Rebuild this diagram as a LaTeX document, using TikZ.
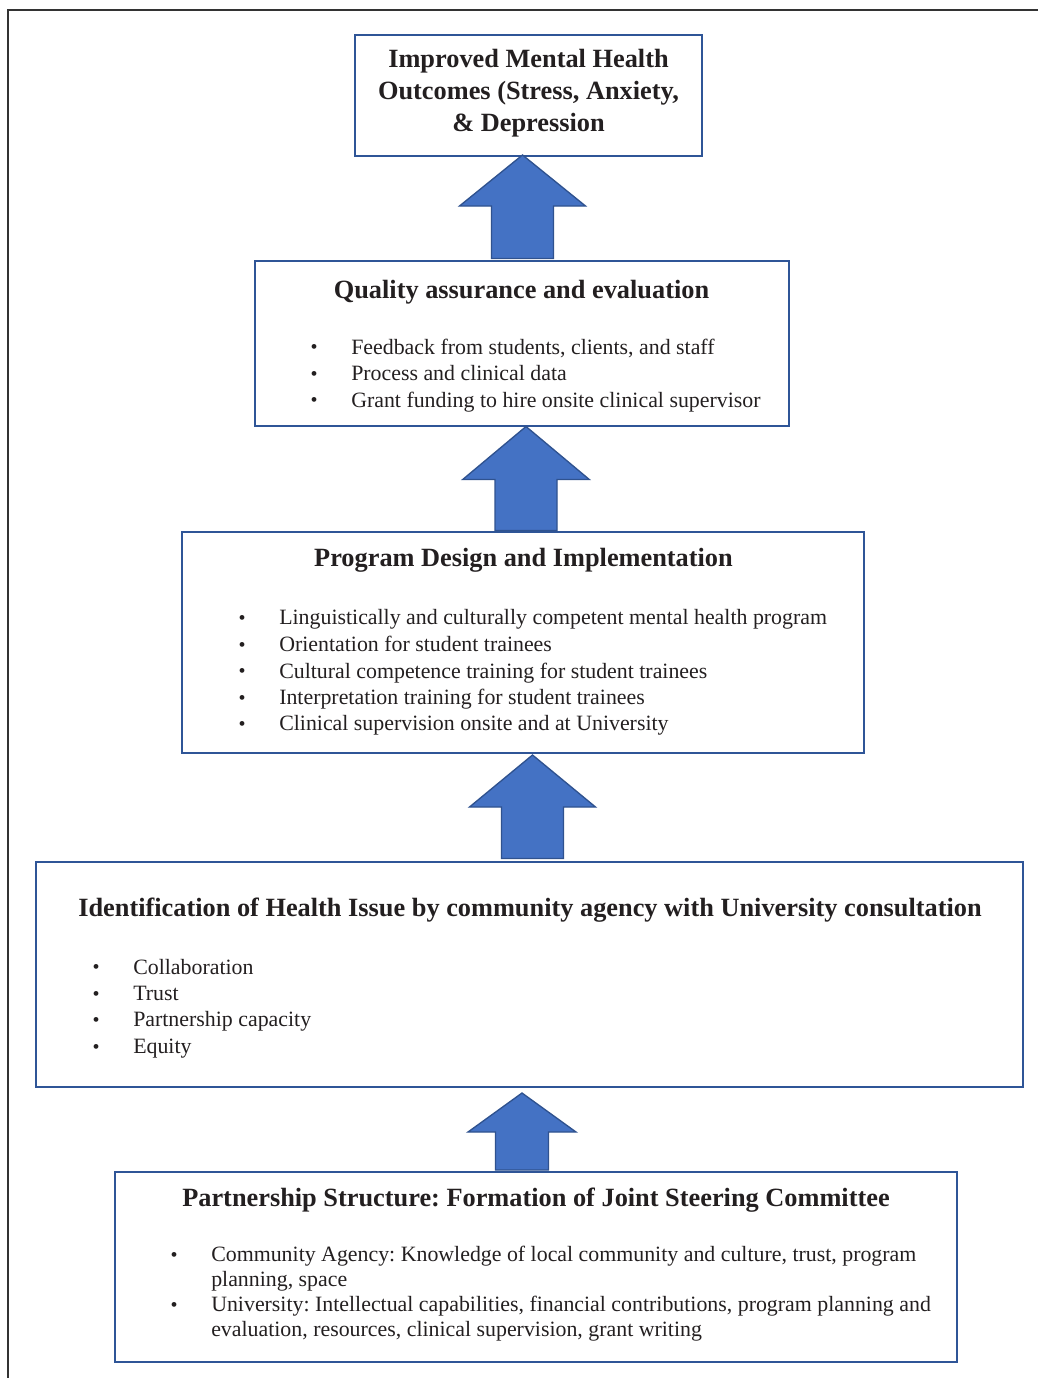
\documentclass[tikz,border=0pt]{standalone}
\usepackage{fontspec}
\setmainfont{Liberation Serif}
\usetikzlibrary{fit,calc}
\frenchspacing
\definecolor{txt}{RGB}{35,31,32}
\definecolor{boxblue}{RGB}{47,85,151}
\definecolor{arrfill}{RGB}{68,114,196}
\definecolor{arredge}{RGB}{47,82,143}
\tikzset{
  box/.style={draw=boxblue, line width=1.5pt, inner sep=0pt},
  headtxt/.style={anchor=base, text=txt, inner sep=0pt, font=\fontsize{19.75}{24}\selectfont\bfseries},
  itemtxt/.style={anchor=base west, text=txt, inner sep=0pt, font=\fontsize{16.4}{20}\selectfont},
  bultxt/.style={anchor=center, text=txt, inner sep=0pt, font=\fontsize{15}{16}\selectfont},
  blockarrow/.style={fill=arrfill, draw=arredge, line width=1pt, line join=miter},
  frameline/.style={draw=black!80, line width=0.9pt}
}
% #1 base coordinate, #2 tip coordinate, #3 shaft half width, #4 head half width, #5 head height
\newcommand\UpBlock[5]{%
  \draw[blockarrow] ($(#1)+(-#3,0)$) -- ($(#2)+(-#3,#5)$) -- ($(#2)+(-#4,#5)$) -- (#2)
    -- ($(#2)+(#4,#5)$) -- ($(#2)+(#3,#5)$) -- ($(#1)+(#3,0)$) -- cycle;}
% bullet + item line: #1 name, #2 bullet x, #3 text x, #4 baseline y, #5 text
\newcommand\ItemLine[5]{%
  \node[bultxt] (#1b) at (#2,#4-4.8) {\textbullet};
  \node[itemtxt] (#1) at (#3,#4) {#5};}
\begin{document}
\begin{tikzpicture}[x=0.75pt,y=-0.75pt]
\useasboundingbox (0,0) rectangle (1038,1378);
% outer frame
\coordinate (fTL) at (8,10);
\coordinate (fTR) at (1038,10);
\coordinate (fBL) at (8,1378);
\draw[frameline] (fTR) -- (fTL) -- (fBL);

% box corners
\coordinate (c1a) at (355,35);   \coordinate (c1b) at (702,156);
\coordinate (c2a) at (255,261);  \coordinate (c2b) at (789,426);
\coordinate (c3a) at (182,532);  \coordinate (c3b) at (864,753);
\coordinate (c4a) at (36,862);   \coordinate (c4b) at (1023,1087);
\coordinate (c5a) at (115,1172); \coordinate (c5b) at (957,1362);
% boxes
\node[box, fit=(c1a)(c1b)] (b1) {};
\node[box, fit=(c2a)(c2b)] (b2) {};
\node[box, fit=(c3a)(c3b)] (b3) {};
\node[box, fit=(c4a)(c4b)] (b4) {};
\node[box, fit=(c5a)(c5b)] (b5) {};

% box 1
\node[headtxt] (h1a) at (528.5,67.3) {Improved Mental Health};
\node[headtxt] (h1b) at (528.5,99) {Outcomes (Stress, Anxiety,};
\node[headtxt] (h1c) at (528.5,131.5) {\& Depression};

% box 2
\node[headtxt] (h2) at (521.5,298.3) {Quality assurance and evaluation};
\ItemLine{i2a}{314}{351}{354}{Feedback from students, clients, and staff}
\ItemLine{i2b}{314}{351}{380.5}{Process and clinical data}
\ItemLine{i2c}{314}{351}{407}{Grant funding to hire onsite clinical supervisor}

% box 3
\node[headtxt] (h3) at (523.5,566.3) {Program Design and Implementation};
\ItemLine{i3a}{242}{279}{624.7}{Linguistically and culturally competent mental health program}
\ItemLine{i3b}{242}{279}{651.3}{Orientation for student trainees}
\ItemLine{i3c}{242}{279}{678}{Cultural competence training for student trainees}
\ItemLine{i3d}{242}{279}{704.3}{Interpretation training for student trainees}
\ItemLine{i3e}{242}{279}{730.7}{Clinical supervision onsite and at University}

% box 4
\node[headtxt] (h4) at (530,916.5) {Identification of Health Issue by community agency with University consultation};
\ItemLine{i4a}{96}{133}{974}{Collaboration}
\ItemLine{i4b}{96}{133}{1000.5}{Trust}
\ItemLine{i4c}{96}{133}{1026.8}{Partnership capacity}
\ItemLine{i4d}{96}{133}{1053.3}{Equity}

% box 5
\node[headtxt] (h5) at (536,1206.5) {Partnership Structure: Formation of Joint Steering Committee};
\ItemLine{i5a}{174}{211}{1261.5}{Community Agency: Knowledge of local community and culture, trust, program}
\node[itemtxt] (i5a2) at (211,1286.5) {planning, space};
\ItemLine{i5b}{174}{211}{1311.7}{University: Intellectual capabilities, financial contributions, program planning and}
\node[itemtxt] (i5b2) at (211,1336.7) {evaluation, resources, clinical supervision, grant writing};

% block arrows
\coordinate (a1s) at (522.5,258.5);
\coordinate (a1t) at (522.5,155);
\UpBlock{a1s}{a1t}{31}{63}{51}
\coordinate (a2s) at (526,530.5);
\coordinate (a2t) at (526,426.5);
\UpBlock{a2s}{a2t}{31}{63.3}{53}
\coordinate (a3s) at (532.5,858.5);
\coordinate (a3t) at (532.5,755);
\UpBlock{a3s}{a3t}{31}{63}{52}
\coordinate (a4s) at (522,1170);
\coordinate (a4t) at (522,1093);
\UpBlock{a4s}{a4t}{26.5}{54}{39}
\end{tikzpicture}
\end{document}
